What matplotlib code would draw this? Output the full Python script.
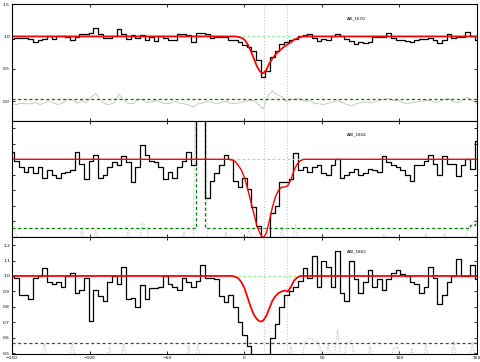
import matplotlib.pyplot as plt
import numpy as np

# velocity grid (km/s), 3 km/s bins
vel = np.arange(-150, 151, 3)

# AlII 1670 normalised flux
flux1 = [0.96, 0.97, 0.97, 0.98, 0.96, 0.92, 0.94, 0.96, 1.01, 0.96,
         1.00, 1.01, 0.99, 0.95, 0.99, 1.04, 1.03, 1.06, 1.13, 1.04,
         0.97, 0.98, 1.00, 1.12, 1.03, 0.96, 1.02, 0.98, 1.02, 0.95,
         0.99, 0.93, 1.01, 0.97, 0.95, 0.95, 1.03, 1.03, 1.02, 0.92,
         1.05, 1.06, 1.03, 0.97, 0.99, 0.99, 0.99, 0.95, 0.94, 0.92,
         0.86, 0.84, 0.78, 0.63, 0.38, 0.47, 0.68, 0.78, 0.88, 0.91,
         0.94, 0.96, 1.01, 1.02, 1.03, 0.98, 0.93, 0.96, 0.95, 1.00,
         1.04, 1.01, 0.96, 0.93, 0.89, 0.91, 0.90, 0.91, 0.99, 0.99,
         0.99, 1.06, 0.98, 0.94, 0.95, 0.93, 0.92, 0.94, 0.96, 0.96,
         0.98, 0.95, 0.90, 0.95, 1.04, 0.97, 0.99, 0.99, 1.07, 1.00,
         0.95]
err1 = [-0.04, -0.05, -0.03, -0.04, -0.04, -0.02, -0.05, -0.03, 0.01, -0.03,
        -0.05, -0.02, 0.03, 0.02, -0.03, 0.01, -0.02, 0.06, 0.12, 0.02,
        -0.04, -0.05, -0.02, 0.11, 0.02, -0.03, -0.04, 0.02, 0.03, -0.02,
        -0.01, 0.01, -0.02, -0.04, -0.03, 0.00, -0.03, -0.04, -0.06, -0.09,
        -0.04, -0.03, 0.00, -0.02, -0.04, -0.02, 0.00, -0.03, -0.04, -0.02,
        -0.01, 0.01, 0.01, -0.05, -0.12, 0.08, 0.16, 0.10, 0.07, -0.01,
        0.02, 0.04, 0.03, 0.00, 0.01, -0.03, -0.04, -0.05, -0.03, -0.01,
        0.01, -0.02, -0.05, -0.07, -0.04, -0.02, -0.01, -0.02, -0.01, 0.01,
        0.03, 0.04, 0.01, 0.01, -0.02, -0.04, -0.02, -0.01, 0.00, 0.01,
        0.01, -0.02, 0.00, 0.03, 0.04, -0.01, -0.02, 0.03, 0.06, 0.01,
        -0.04]
green1 = 0.035

# AlIII 1854
flux2 = [1.05, 0.99, 0.95, 0.92, 0.95, 0.91, 0.95, 0.88, 0.93, 0.90,
         0.88, 0.91, 0.92, 0.93, 1.05, 0.97, 0.87, 0.99, 1.03, 0.88,
         0.90, 0.95, 0.98, 0.96, 1.02, 0.98, 0.85, 0.95, 1.09, 1.03,
         0.99, 0.98, 0.95, 0.87, 0.92, 0.88, 0.95, 0.99, 1.05, 0.96,
         3.00, 3.00, 0.75, 0.86, 0.91, 0.96, 1.03, 1.00, 0.86, 0.82,
         0.88, 0.81, 0.69, 0.57, 0.48, 0.48, 0.65, 0.70, 0.85, 0.85,
         0.87, 1.04, 0.93, 0.95, 0.92, 0.95, 0.96, 0.91, 0.90, 0.96,
         1.00, 0.88, 0.90, 0.92, 0.94, 0.90, 0.91, 0.94, 0.93, 0.92,
         1.02, 0.98, 0.96, 0.95, 0.93, 0.90, 0.86, 0.96, 0.96, 0.99,
         1.03, 0.97, 0.90, 1.02, 0.97, 0.97, 0.89, 0.96, 1.00, 0.94,
         1.12]
err2 = [0.62, 0.50, 0.40, 0.40, 0.40, 0.40, 0.40, 0.40, 0.40, 0.40,
        0.40, 0.40, 0.40, 0.40, 0.40, 0.54, 0.40, 0.40, 0.54, 0.40,
        0.40, 0.40, 0.40, 0.40, 0.40, 0.54, 0.40, 0.40, 0.59, 0.55,
        0.40, 0.40, 0.40, 0.40, 0.40, 0.40, 0.40, 0.53, 0.40, 0.40,
        3.00, 3.00, 0.40, 0.40, 0.40, 0.40, 0.53, 0.40, 0.40, 0.40,
        0.40, 0.56, 0.40, 0.40, 0.40, 0.40, 0.40, 0.40, 0.56, 0.40,
        0.40, 0.58, 0.40, 0.40, 0.40, 0.40, 0.40, 0.40, 0.40, 0.40,
        0.40, 0.40, 0.40, 0.40, 0.40, 0.40, 0.40, 0.40, 0.40, 0.40,
        0.52, 0.40, 0.40, 0.40, 0.40, 0.40, 0.40, 0.40, 0.40, 0.52,
        0.40, 0.40, 0.40, 0.52, 0.40, 0.40, 0.40, 0.40, 0.55, 0.58,
        0.62]
green2 = [0.556] * 40 + [3.0, 3.0] + [0.556] * 57 + [0.575, 0.60]

# AlIII 1862
flux3 = [1.00, 0.99, 0.88, 0.88, 0.85, 0.99, 1.00, 1.05, 0.96, 0.95,
         0.96, 0.93, 1.00, 1.02, 0.89, 0.91, 0.99, 0.71, 0.91, 0.87,
         0.84, 0.96, 1.00, 0.95, 1.06, 0.85, 0.86, 0.80, 0.94, 0.85,
         0.92, 0.92, 0.93, 1.00, 0.95, 0.93, 0.91, 0.99, 0.96, 0.93,
         0.97, 1.07, 0.99, 0.99, 0.98, 0.87, 0.83, 0.88, 0.80, 0.70,
         0.62, 0.55, 0.45, 0.45, 0.45, 0.47, 0.60, 0.69, 0.80, 0.88,
         0.90, 0.93, 0.97, 1.05, 0.99, 1.13, 0.93, 1.10, 1.06, 0.93,
         1.16, 0.89, 0.84, 1.10, 0.98, 0.89, 0.96, 1.04, 0.93, 0.98,
         0.91, 0.98, 1.02, 1.04, 1.01, 1.00, 0.96, 0.95, 0.89, 0.93,
         1.06, 0.99, 0.82, 0.88, 0.96, 1.00, 1.11, 1.00, 1.00, 1.07,
         0.98]
err3 = [0.40, 0.40, 0.40, 0.40, 0.40, 0.40, 0.40, 0.56, 0.40, 0.40,
        0.40, 0.40, 0.40, 0.57, 0.40, 0.40, 0.40, 0.40, 0.40, 0.40,
        0.40, 0.54, 0.40, 0.40, 0.56, 0.40, 0.40, 0.40, 0.40, 0.40,
        0.40, 0.40, 0.40, 0.40, 0.40, 0.40, 0.40, 0.40, 0.55, 0.40,
        0.56, 0.40, 0.40, 0.40, 0.40, 0.40, 0.40, 0.40, 0.40, 0.40,
        0.40, 0.40, 0.40, 0.40, 0.40, 0.40, 0.40, 0.40, 0.40, 0.40,
        0.55, 0.40, 0.40, 0.58, 0.60, 0.58, 0.57, 0.40, 0.56, 0.40,
        0.65, 0.40, 0.57, 0.58, 0.40, 0.40, 0.40, 0.55, 0.40, 0.40,
        0.40, 0.40, 0.53, 0.54, 0.40, 0.40, 0.53, 0.40, 0.40, 0.56,
        0.40, 0.40, 0.40, 0.40, 0.40, 0.58, 0.40, 0.40, 0.40, 0.57,
        0.40]
green3 = 0.565

# fitted model profiles
model_v1 = [-150, -6, -4, -2, 0, 2, 4, 6, 8, 10, 12, 14, 16, 18, 20, 22, 24, 26, 28, 30, 32, 34, 36, 38, 150]
model_f1 = [1, 1.0, 0.99, 0.98, 0.95, 0.88, 0.78, 0.66, 0.54, 0.46, 0.43, 0.48, 0.58, 0.66, 0.72, 0.77,
            0.81, 0.85, 0.88, 0.91, 0.95, 0.97, 0.99, 1.0, 1]
model_v2 = [-150, -10, -8, -6, -4, -2, 0, 2, 4, 6, 8, 10, 12, 14, 16, 18, 20, 22, 24, 26, 28, 30, 32, 34, 36, 38, 150]
model_f2 = [1, 1.0, 0.995, 0.985, 0.96, 0.93, 0.88, 0.81, 0.73, 0.65, 0.57, 0.52, 0.49, 0.52, 0.6, 0.69,
            0.76, 0.8, 0.82, 0.82, 0.83, 0.87, 0.93, 0.97, 0.99, 1.0, 1]
model_v3 = [-150, -8, -6, -4, -2, 0, 2, 4, 6, 8, 10, 12, 14, 16, 18, 20, 22, 24, 26, 28, 30, 32, 34, 36, 150]
model_f3 = [1, 1.0, 0.995, 0.985, 0.96, 0.92, 0.86, 0.8, 0.75, 0.72, 0.705, 0.71, 0.74, 0.79, 0.84, 0.87,
            0.89, 0.9, 0.905, 0.9, 0.93, 0.97, 0.99, 1.0, 1]

fit_ranges = [(-5, 31), (-8, 36), (-4, 38)]
comp_v = [12.5, 27.5]
names = ['AlII_1670', 'AlIII_1854', 'AlIII_1862']

fig = plt.figure(figsize=(4.81, 3.62), dpi=100)
axes = fig.subplots(3, 1, sharex=True)
fig.subplots_adjust(left=12/481, right=477/481, top=1-4/362, bottom=1-354/362, hspace=0)

panels = [
    (flux1, err1, green1, model_v1, model_f1, '-'),
    (flux2, err2, green2, model_v2, model_f2, ':'),
    (flux3, err3, green3, model_v3, model_f3, ':'),
]

for i, (ax, (flux, err, green, mv, mf, els)) in enumerate(zip(axes, panels)):
    ax.plot(vel, err, color='#b0b0b0' if els == ':' else '#c0c0c0', lw=0.7 if els == ':' else 0.6, ls=els)
    if np.isscalar(green):
        ax.axhline(green, color='green', ls='--', lw=0.9, dashes=(2.5, 2))
    else:
        ax.plot(vel, green, color='green', ls='--', lw=0.9, dashes=(2.5, 2), drawstyle='steps-mid')
    for cv in comp_v:
        ax.axvline(cv, color='#c8c8c8', ls=':', lw=0.8)
    ax.plot(vel, flux, color='black', lw=0.9, drawstyle='steps-mid')
    lo, hi = fit_ranges[i]
    ax.plot([lo, hi], [1.0, 1.0], color='#90ee90', ls='--', lw=0.8, dashes=(2.5, 2))
    ax.plot(mv, mf, color='red', lw=1.0 if i == 1 else 1.3)
    ax.text(0.72, 0.87, names[i], transform=ax.transAxes, fontsize=3)
    ax.tick_params(direction='in', top=True, right=True, labelsize=3.2, length=2.5, width=0.6, pad=1.5)
    for s in ax.spines.values():
        s.set_linewidth(0.8)

axes[0].set_ylim(-0.3, 1.5)
axes[0].set_yticks([0.0, 0.5, 1.0, 1.5])
axes[1].set_ylim(0.495, 1.25)
axes[1].set_yticks([0.6, 0.7, 0.8, 0.9, 1.0, 1.1, 1.2])
axes[1].set_yticklabels([])
axes[2].set_ylim(0.495, 1.25)
axes[2].set_yticks([0.5, 0.6, 0.7, 0.8, 0.9, 1.0, 1.1, 1.2])
axes[2].set_xlim(-150, 150)
axes[2].set_xticks([-150, -100, -50, 0, 50, 100, 150])

fig.savefig('out.png', dpi=100)
